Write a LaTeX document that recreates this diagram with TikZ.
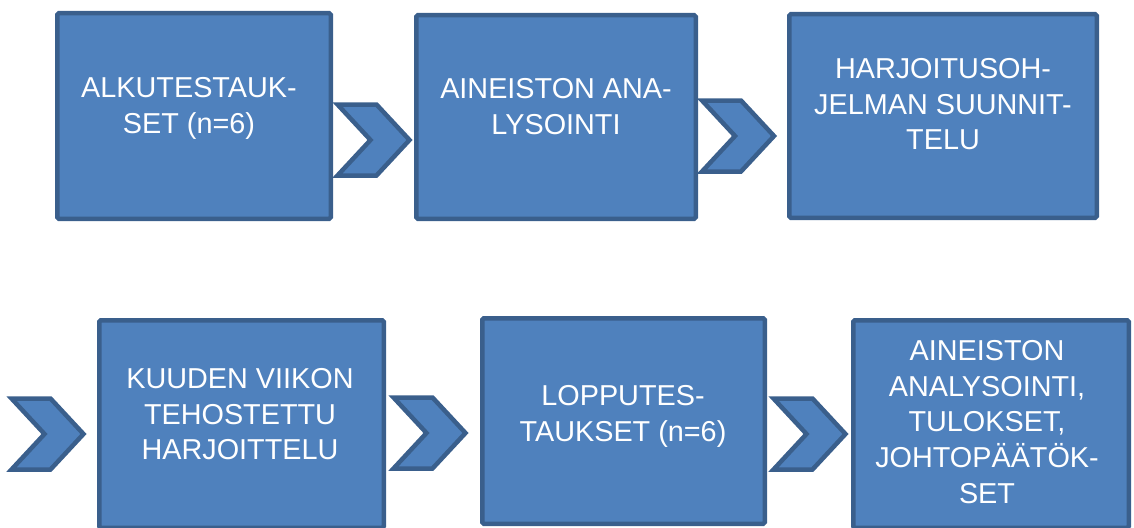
\documentclass[tikz,border=0pt]{standalone}
\usepackage{fontspec}
\setmainfont{Liberation Sans}
\definecolor{boxfill}{HTML}{4F81BD}
\definecolor{boxline}{HTML}{3A5F8C}
\tikzset{
  stepbox/.style={draw=boxline, fill=boxfill, line width=4.5pt, rounded corners=1.5pt, inner sep=0pt},
  chev/.style={draw=boxline, fill=boxfill, line width=4.5pt, line join=miter},
  boxtext/.style={text=white, align=center, inner sep=0pt, anchor=north, font=\fontsize{28.8}{35.8}\selectfont},
}
\begin{document}
\begin{tikzpicture}[x=1pt,y=-1pt]
\useasboundingbox (0,0) rectangle (1134,527);
\clip (0,0) rectangle (1134,527);
% boxes (outer edges measured; stroke is centred on the path)
\node[stepbox, minimum width=273.5pt, minimum height=205.5pt] (b1) at (194,116) {};
\node[stepbox, minimum width=279.5pt, minimum height=203.5pt] (b2) at (556,117) {};
\node[stepbox, minimum width=307.5pt, minimum height=203.5pt] (b3) at (943,116) {};
\node[stepbox, minimum width=284.5pt, minimum height=207.5pt] (b4) at (241.5,424) {};
\node[stepbox, minimum width=282.5pt, minimum height=205.5pt] (b5) at (623.5,421) {};
\node[stepbox, minimum width=275.5pt, minimum height=207.5pt] (b6) at (991,424) {};
% texts
\node[boxtext] (t1) at (189,77) {ALKUTESTAUK-\\SET (n=6)};
\node[boxtext] (t2) at (556,78) {AINEISTON ANA-\\LYSOINTI};
\node[boxtext] (t3) at (943,58) {HARJOITUSOH-\\JELMAN SUUNNIT-\\TELU};
\node[boxtext] (t4) at (240,368) {KUUDEN VIIKON\\TEHOSTETTU\\HARJOITTELU};
\node[boxtext] (t5) at (623,385) {LOPPUTES-\\TAUKSET (n=6)};
\node[boxtext] (t6) at (987,340) {AINEISTON\\ANALYSOINTI,\\TULOKSET,\\JOHTOPÄÄTÖK-\\SET};
% chevrons
\coordinate (c1) at (337.5,104.5);
\coordinate (c2) at (702,100.5);
\coordinate (c3) at (11.5,398.5);
\coordinate (c4) at (393.5,397.5);
\coordinate (c5) at (773.5,398.5);
\foreach \c in {c1,c2,c3,c4,c5}{
  \draw[chev] (\c) -- ++(39,0) -- ++(33,35.5) -- ++(-33,35.5) -- ++(-39,0) -- ++(33,-35.5) -- cycle;
}
\end{tikzpicture}
\end{document}
